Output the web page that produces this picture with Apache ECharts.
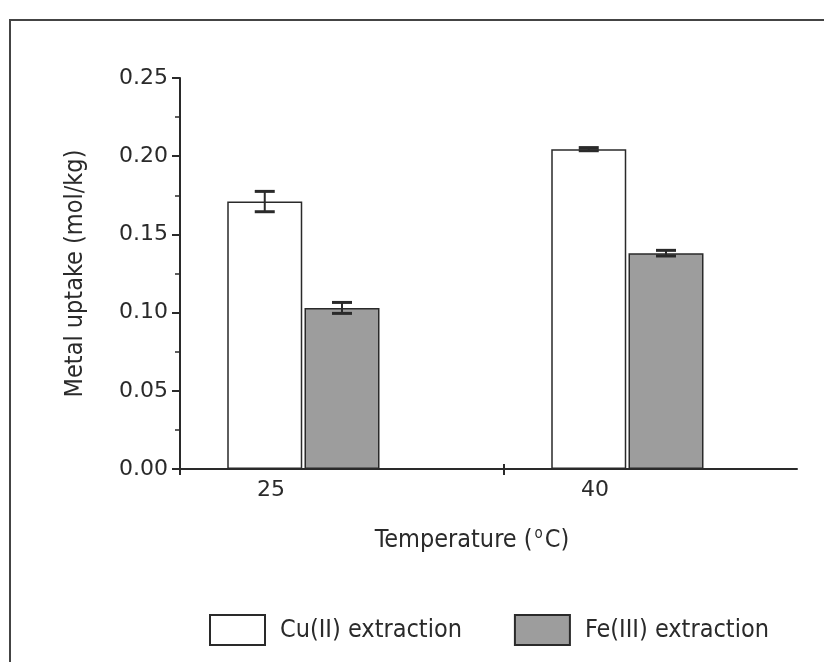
<!DOCTYPE html>
<html><head><meta charset="utf-8">
<script src="https://cdn.jsdelivr.net/npm/echarts@6/dist/echarts.min.js"></script>
<style>html,body{margin:0;padding:0;background:#fff}#c{width:824px;height:662px}</style>
</head><body><div id="c"></div>
<script>
// ---- data ----
const categories = ['25', '40'];
const seriesNames = ['Cu(II) extraction', 'Fe(III) extraction'];
const cuValues = [0.171, 0.2045];
const cuErrors = [0.0065, 0.0010];
const feValues = [0.103, 0.138];
const feErrors = [0.0035, 0.0018];
const yTickValues = [0, 0.05, 0.10, 0.15, 0.20, 0.25];
const xTitle = 'Temperature ({sup|o}C)';
const yTitle = 'Metal uptake (mol/kg)';

// ---- style constants ----
const BAR_W = 75, BAR_GAP = 0.03, CAP_W = 20;
const INK = '#2a2a2a';
const COND = '"DejaVu Sans Condensed", "DejaVu Sans", sans-serif';
const WIDE = '"DejaVu Sans", Verdana, sans-serif';

function errorSeries(name, values, errors, slot) {
  return {
    type: 'custom', name: name, xAxisIndex: 0, yAxisIndex: 0, z: 10,
    data: values.map((v, i) => [i, v, errors[i]]),
    renderItem: function (params, api) {
      const i = api.value(0), v = api.value(1), e = api.value(2);
      const off = slot * BAR_W * (1 + BAR_GAP);
      const hi = api.coord([i, v + e]);
      const lo = api.coord([i, v - e]);
      const x = hi[0] + off, hw = CAP_W / 2;
      return { type: 'group', children: [
        { type: 'line', shape: { x1: x, y1: hi[1], x2: x, y2: lo[1] }, style: { stroke: INK, lineWidth: 2 } },
        { type: 'line', shape: { x1: x - hw, y1: hi[1], x2: x + hw, y2: hi[1] }, style: { stroke: INK, lineWidth: 3 } },
        { type: 'line', shape: { x1: x - hw, y1: lo[1], x2: x + hw, y2: lo[1] }, style: { stroke: INK, lineWidth: 3 } }
      ]};
    }
  };
}

const chart = echarts.init(document.getElementById('c'), null, { renderer: 'canvas' });
const yMin = yTickValues[0], yMax = yTickValues[yTickValues.length - 1];
const yStep = yTickValues[1] - yTickValues[0];

chart.setOption({
  animation: false,
  backgroundColor: '#fff',
  graphic: [{ type: 'rect', shape: { x: 10, y: 20, width: 900, height: 800 },
              style: { fill: 'none', stroke: '#444', lineWidth: 2 }, z: -1 }],
  grid: [
    { left: 180, top: 78, width: 648, bottom: 193, outerBoundsMode: 'none', containLabel: false },
    { left: 180, top: 78, width: 617, bottom: 193, outerBoundsMode: 'none', containLabel: false }
  ],
  legend: {
    data: seriesNames, left: 204, top: 609, icon: 'rect',
    itemWidth: 55, itemHeight: 30, itemGap: 52,
    textStyle: { fontFamily: COND, fontSize: 25, color: INK, padding: [0, 0, 0, 10] }
  },
  xAxis: [
    { type: 'category', gridIndex: 0, data: categories, boundaryGap: true,
      axisLine: { show: false },
      axisTick: { show: true, length: 6, interval: 0, lineStyle: { color: INK, width: 2 } },
      axisLabel: { interval: 0, margin: 10, fontFamily: WIDE, fontSize: 22, color: INK,
        formatter: function (v, i) { return '{l' + i + '|' + v + '}'; },
        rich: { l0: { fontFamily: WIDE, fontSize: 22, color: INK, padding: [0, 142, 0, 0] },
                l1: { fontFamily: WIDE, fontSize: 22, color: INK, padding: [0, 142, 0, 0] } } },
      splitLine: { show: false } },
    { type: 'category', gridIndex: 0, data: categories, position: 'bottom',
      axisLine: { show: false },
      axisTick: { show: true, inside: true, length: 5, interval: 0, lineStyle: { color: INK, width: 2 } },
      axisLabel: { show: false }, splitLine: { show: false } },
    { type: 'value', gridIndex: 1, min: 0, max: 1,
      axisLine: { show: true, lineStyle: { color: INK, width: 2 } },
      axisTick: { show: false }, axisLabel: { show: false }, splitLine: { show: false },
      name: xTitle, nameLocation: 'middle', nameGap: 58,
      nameTextStyle: { fontFamily: COND, fontSize: 25, color: INK, padding: [0, 33, 0, 0],
        rich: { sup: { fontFamily: COND, fontSize: 15, color: INK, verticalAlign: 'top', padding: [0, 2, 12, 2] } } } }
  ],
  yAxis: [
    { type: 'value', gridIndex: 0, min: yMin, max: yMax, interval: yStep,
      axisLine: { show: true, lineStyle: { color: INK, width: 2 } },
      axisTick: { show: true, length: 8, lineStyle: { color: INK, width: 2 } },
      minorTick: { show: true, splitNumber: 2, length: 5, lineStyle: { color: INK, width: 1.5 } },
      axisLabel: { margin: 12, fontFamily: WIDE, fontSize: 22, color: INK,
        formatter: v => v.toFixed(2) },
      splitLine: { show: false }, minorSplitLine: { show: false },
      name: yTitle, nameLocation: 'middle', nameGap: 92, nameRotate: 90,
      nameTextStyle: { fontFamily: COND, fontSize: 25, color: INK } },
    { type: 'value', gridIndex: 1, show: false, min: yMin, max: yMax }
  ],
  series: [
    { type: 'bar', name: seriesNames[0], xAxisIndex: 0, yAxisIndex: 0, data: cuValues,
      barWidth: BAR_W, barGap: (BAR_GAP * 100) + '%',
      itemStyle: { color: '#ffffff', borderColor: INK, borderWidth: 1.5 } },
    { type: 'bar', name: seriesNames[1], xAxisIndex: 0, yAxisIndex: 0, data: feValues,
      barWidth: BAR_W, barGap: (BAR_GAP * 100) + '%',
      itemStyle: { color: '#9d9d9d', borderColor: INK, borderWidth: 1.5 } },
    { type: 'bar', name: 'spacer', xAxisIndex: 0, yAxisIndex: 0, data: categories.map(() => '-'),
      barWidth: BAR_W, barGap: (BAR_GAP * 100) + '%', silent: true },
    errorSeries('Cu err', cuValues, cuErrors, -1),
    errorSeries('Fe err', feValues, feErrors, 0)
  ]
});
</script>
</body></html>
